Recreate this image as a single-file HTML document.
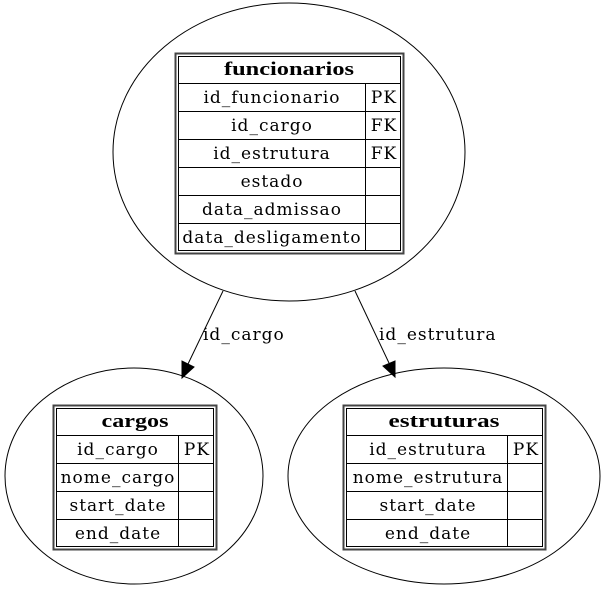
<!DOCTYPE html>
<html><head><meta charset="utf-8"><style>
html,body{margin:0;padding:0;background:#fff;}
svg{display:block;}
text{font-family:"DejaVu Serif","Liberation Serif",serif;font-size:17px;letter-spacing:1px;fill:#000;}
.b{font-family:"Liberation Serif",serif;font-weight:bold;font-size:19px;letter-spacing:0;}
</style></head><body>
<svg width="605" height="592" viewBox="0 0 605 592" xmlns="http://www.w3.org/2000/svg">
<g fill="none" stroke="#000" stroke-width="1">
<ellipse cx="289" cy="152" rx="176" ry="149"/>
<ellipse cx="134" cy="476" rx="129" ry="108"/>
<ellipse cx="444" cy="476" rx="156" ry="108"/>
<line x1="223" y1="291" x2="188" y2="364"/>
<line x1="355" y1="291" x2="389" y2="363"/>
</g>
<polygon points="182,378 182,361 194,367" fill="#000" stroke="#000"/>
<polygon points="395,377 383,366 395,361" fill="#000" stroke="#000"/>
<text x="203" y="340">id_cargo</text>
<text x="379" y="340">id_estrutura</text>

<!-- funcionarios -->
<g fill="none" stroke="#000">
<rect x="175.5" y="53.5" width="228" height="200" stroke-width="2" stroke="#444"/>
<rect x="178.5" y="56.5" width="222" height="194"/>
<line x1="178" y1="83.5" x2="401" y2="83.5"/>
<line x1="178" y1="111.5" x2="401" y2="111.5"/>
<line x1="178" y1="139.5" x2="401" y2="139.5"/>
<line x1="178" y1="167.5" x2="401" y2="167.5"/>
<line x1="178" y1="195.5" x2="401" y2="195.5"/>
<line x1="178" y1="223.5" x2="401" y2="223.5"/>
<line x1="365.5" y1="83" x2="365.5" y2="251"/>
</g>
<g text-anchor="middle">
<text class="b" x="289" y="75" textLength="130" lengthAdjust="spacingAndGlyphs">funcionarios</text>
<text x="272" y="103">id_funcionario</text><text x="384" y="103">PK</text>
<text x="272" y="131">id_cargo</text><text x="384" y="131">FK</text>
<text x="272" y="159">id_estrutura</text><text x="384" y="159">FK</text>
<text x="272" y="187">estado</text>
<text x="272" y="215">data_admissao</text>
<text x="272" y="243">data_desligamento</text>
</g>

<!-- cargos -->
<g fill="none" stroke="#000">
<rect x="53.5" y="405.5" width="163" height="144" stroke-width="2" stroke="#444"/>
<rect x="56.5" y="408.5" width="157" height="138"/>
<line x1="56" y1="435.5" x2="214" y2="435.5"/>
<line x1="56" y1="463.5" x2="214" y2="463.5"/>
<line x1="56" y1="491.5" x2="214" y2="491.5"/>
<line x1="56" y1="519.5" x2="214" y2="519.5"/>
<line x1="178.5" y1="435" x2="178.5" y2="547"/>
</g>
<g text-anchor="middle">
<text class="b" x="135" y="427" textLength="67" lengthAdjust="spacingAndGlyphs">cargos</text>
<text x="118" y="455">id_cargo</text><text x="197" y="455">PK</text>
<text x="118" y="483">nome_cargo</text>
<text x="118" y="511">start_date</text>
<text x="118" y="539">end_date</text>
</g>

<!-- estruturas -->
<g fill="none" stroke="#000">
<rect x="343.5" y="405.5" width="202" height="144" stroke-width="2" stroke="#444"/>
<rect x="346.5" y="408.5" width="196" height="138"/>
<line x1="346" y1="435.5" x2="543" y2="435.5"/>
<line x1="346" y1="463.5" x2="543" y2="463.5"/>
<line x1="346" y1="491.5" x2="543" y2="491.5"/>
<line x1="346" y1="519.5" x2="543" y2="519.5"/>
<line x1="507.5" y1="435" x2="507.5" y2="547"/>
</g>
<g text-anchor="middle">
<text class="b" x="444" y="427" textLength="111" lengthAdjust="spacingAndGlyphs">estruturas</text>
<text x="428" y="455">id_estrutura</text><text x="526" y="455">PK</text>
<text x="428" y="483">nome_estrutura</text>
<text x="428" y="511">start_date</text>
<text x="428" y="539">end_date</text>
</g>
</svg>
</body></html>
